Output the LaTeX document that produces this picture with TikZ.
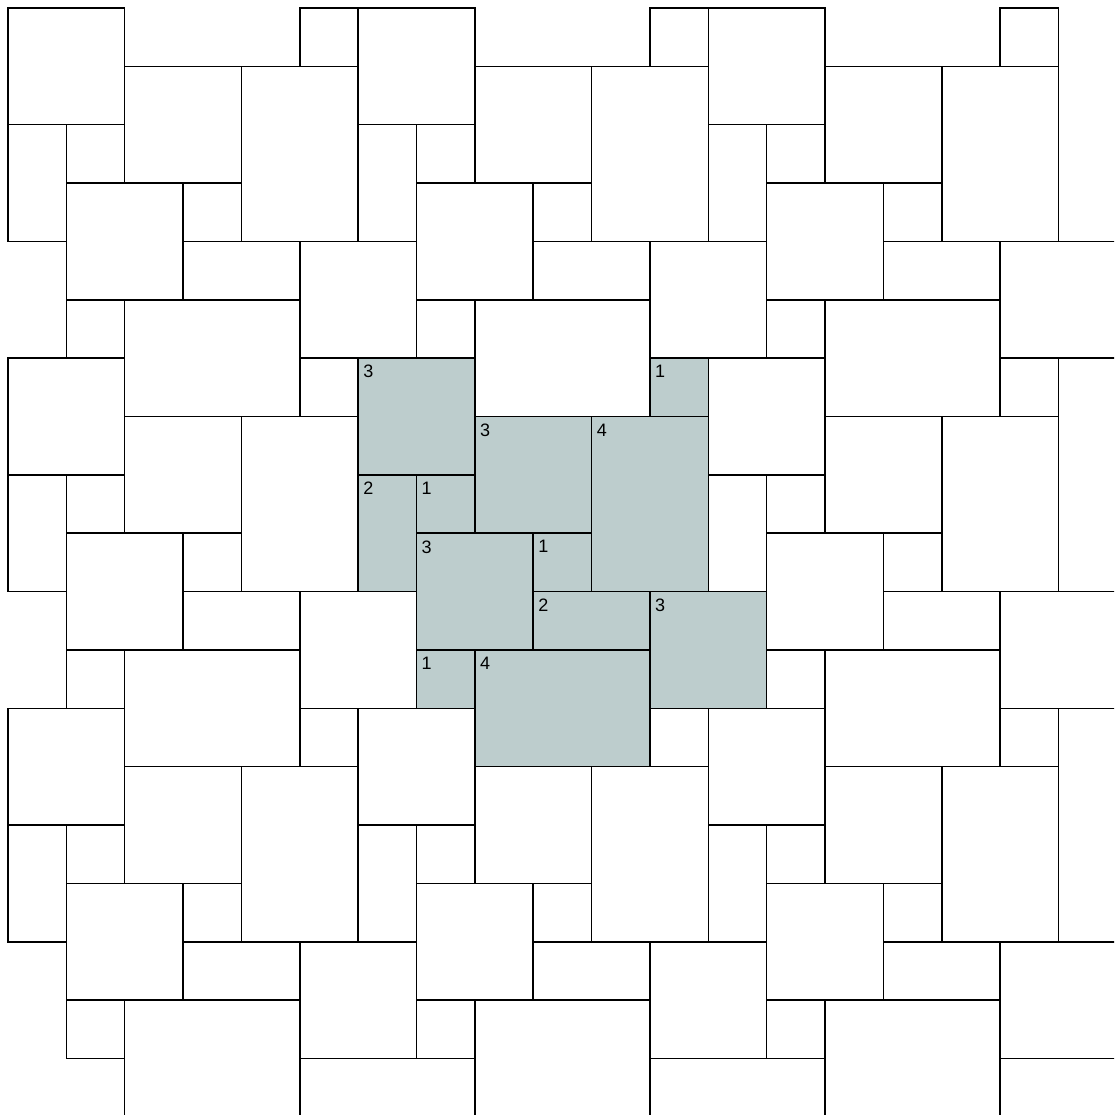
\documentclass[tikz,border=0pt]{standalone}
\usepackage{fontspec}
\setmainfont{Liberation Sans}
\definecolor{tilefill}{HTML}{BDCDCD}
\tikzset{
  tile/.style={draw=black, line width=1.5pt},
  hitile/.style={tile, fill=tilefill},
  tlabel/.style={anchor=north west, inner sep=0pt, font=\fontsize{18}{18}\selectfont}
}
\begin{document}
\begin{tikzpicture}[x=1pt,y=-1pt]
\useasboundingbox (0,0) rectangle (1114,1115);
\def\u{58.36}
\def\ox{8}
\def\oy{8}
\begin{scope}
\clip (0,0) rectangle (1114,1115);
% nine copies of the 12-tile patch: col,row,width,height
\foreach \m in {0,1,2}{
  \foreach \n in {0,1,2}{
    \foreach \c/\r/\w/\h in {0/0/2/2,5/0/1/1,2/1/2/2,4/1/2/3,0/2/1/2,1/2/1/1,1/3/2/2,3/3/1/1,3/4/2/1,5/4/2/2,1/5/1/1,2/5/3/2}{
      \pgfmathsetmacro\xa{\ox+(\c+6*\m)*\u}
      \pgfmathsetmacro\ya{\oy+(\r+6*\n)*\u}
      \pgfmathsetmacro\xb{\ox+(\c+\w+6*\m)*\u}
      \pgfmathsetmacro\yb{\oy+(\r+\h+6*\n)*\u}
      \ifnum\m=1 \ifnum\n=1
        \draw[hitile] (\xa,\ya) rectangle (\xb,\yb);
      \else
        \draw[tile] (\xa,\ya) rectangle (\xb,\yb);
      \fi\else
        \draw[tile] (\xa,\ya) rectangle (\xb,\yb);
      \fi
    }
  }
}
\end{scope}
% labels of the highlighted patch
\foreach \c/\r/\t [count=\i] in {6/6/3,11/6/1,8/7/3,10/7/4,6/8/2,7/8/1,7/9/3,9/9/1,9/10/2,11/10/3,7/11/1,8/11/4}{
  \node[tlabel] (lab\i) at ({\ox+\c*\u+5},{\oy+\r*\u+7}) {\t};
}
\end{tikzpicture}
\end{document}
